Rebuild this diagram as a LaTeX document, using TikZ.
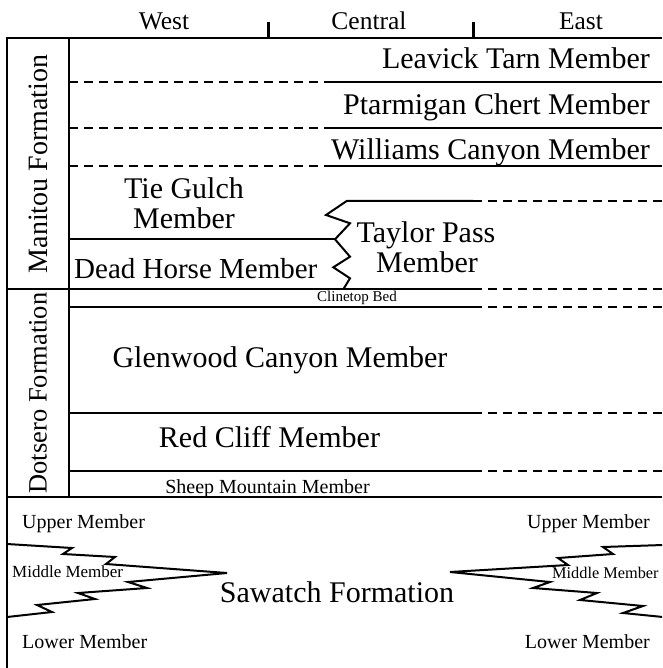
\documentclass[tikz,border=0pt]{standalone}
\usepackage{fontspec}
\setmainfont{Liberation Serif}
\begin{document}
\begin{tikzpicture}[x=1pt,y=-1pt]
\tikzset{
  bound/.style={line width=2pt},
  dashbound/.style={line width=2pt, dash pattern=on 9pt off 6pt},
  tickline/.style={line width=3pt},
  txt/.style={inner sep=0pt, anchor=base},
  big/.style={font=\fontsize{30}{36}\selectfont},
  head/.style={font=\fontsize{25.5}{30}\selectfont},
  mid/.style={font=\fontsize{20}{24}\selectfont},
  small/.style={font=\fontsize{17}{20}\selectfont},
  tiny/.style={font=\fontsize{15}{18}\selectfont},
}
\useasboundingbox (0,0) rectangle (662,668);
\clip (0,0) rectangle (662,668);
\fill[white] (0,0) rectangle (662,668);

% header
\node[txt, head] (west) at (164,30) {West};
\node[txt, head] (central) at (369,30) {Central};
\node[txt, head] (east) at (581,30) {East};
\draw[tickline] (268,22) -- (268,38);
\draw[tickline] (473,22) -- (473,38);

% frame
\draw[bound] (7,38) -- (662,38);
\draw[bound] (7,37) -- (7,668);
\draw[bound] (69,38) -- (69,497);
\draw[bound] (7,497) -- (662,497);

% formation labels
\node[rotate=90, inner sep=0pt, font=\fontsize{28}{32}\selectfont] (manitou) at (38,164) {Manitou Formation};
\node[rotate=90, inner sep=0pt, font=\fontsize{26.5}{32}\selectfont] (dotsero) at (38,393) {Dotsero Formation};

% Manitou upper members
\draw[dashbound] (69,82) -- (327,82);  \draw[bound] (327,82) -- (662,82);
\draw[dashbound] (69,128) -- (327,128); \draw[bound] (327,128) -- (662,128);
\draw[dashbound] (69,166) -- (327,166); \draw[bound] (327,166) -- (662,166);
\node[txt, big, anchor=base east] (leavick) at (650,69) {Leavick Tarn Member};
\node[txt, big, anchor=base east] (ptarmigan) at (650,115) {Ptarmigan Chert Member};
\node[txt, big, anchor=base east] (williams) at (650,160) {Williams Canyon Member};

% Tie Gulch / Dead Horse / Taylor Pass
\node[txt, big] (tiegulch) at (184,198) {Tie Gulch};
\node[txt, big] (tiegulch2) at (184,228) {Member};
\node[txt, font=\fontsize{29}{34}\selectfont, anchor=base west] (deadhorse) at (74,278) {Dead Horse Member};
\node[txt, big] (taylor) at (426,242) {Taylor Pass};
\node[txt, big] (taylor2) at (427,272) {Member};
\draw[bound] (69,239.3) -- (335,239.3);
\draw[bound, line join=miter] (473,201) -- (346.7,201) -- (326,215) -- (350,223.3) -- (335,239.3)
  -- (350,256.7) -- (333.3,267.3) -- (350,278.3) -- (343.3,289.3);
\draw[dashbound] (473,201) -- (662,201);

% Clinetop Bed
\draw[bound] (7,289.3) -- (473,289.3); \draw[dashbound] (473,289.3) -- (662,289.3);
\draw[bound] (69,307) -- (473,307); \draw[dashbound] (473,307) -- (662,307);
\node[txt, tiny] (clinetop) at (357,301) {Clinetop Bed};

% Dotsero members
\node[txt, big] (glenwood) at (280,367) {Glenwood Canyon Member};
\draw[bound] (69,413) -- (473,413); \draw[dashbound] (473,413) -- (662,413);
\node[txt, big] (redcliff) at (269.5,447) {Red Cliff Member};
\draw[bound] (69,471) -- (473,471); \draw[dashbound] (473,471) -- (662,471);
\node[txt, mid] (sheep) at (267.5,493) {Sheep Mountain Member};

% Sawatch Formation
\node[txt, mid, anchor=base west] (upperW) at (22,528) {Upper Member};
\node[txt, mid, anchor=base east] (upperE) at (650,528) {Upper Member};
\node[txt, mid, anchor=base west] (lowerW) at (22,648) {Lower Member};
\node[txt, mid, anchor=base east] (lowerE) at (650,648) {Lower Member};
\node[txt, small, anchor=base west] (middleW) at (12,577) {Middle Member};
\node[txt, font=\fontsize{16.3}{19}\selectfont, anchor=base west] (middleE) at (552,578) {Middle Member};
\node[txt, big] (sawatch) at (337,602) {Sawatch Formation};
\draw[line width=2pt, line join=miter] (7,544) -- (72,548) -- (63,554) -- (115,557) -- (106,564) -- (227,573)
  -- (128,582) -- (147,588) -- (78,593) -- (95,599) -- (37,605) -- (52,612) -- (7,617);
\draw[line width=2pt, line join=miter] (663,545) -- (603,547) -- (613,554) -- (558,558) -- (568,565) -- (450,572)
  -- (550,582) -- (533,588) -- (597,593) -- (580,600) -- (643,606) -- (623,613) -- (663,617);
\end{tikzpicture}
\end{document}
